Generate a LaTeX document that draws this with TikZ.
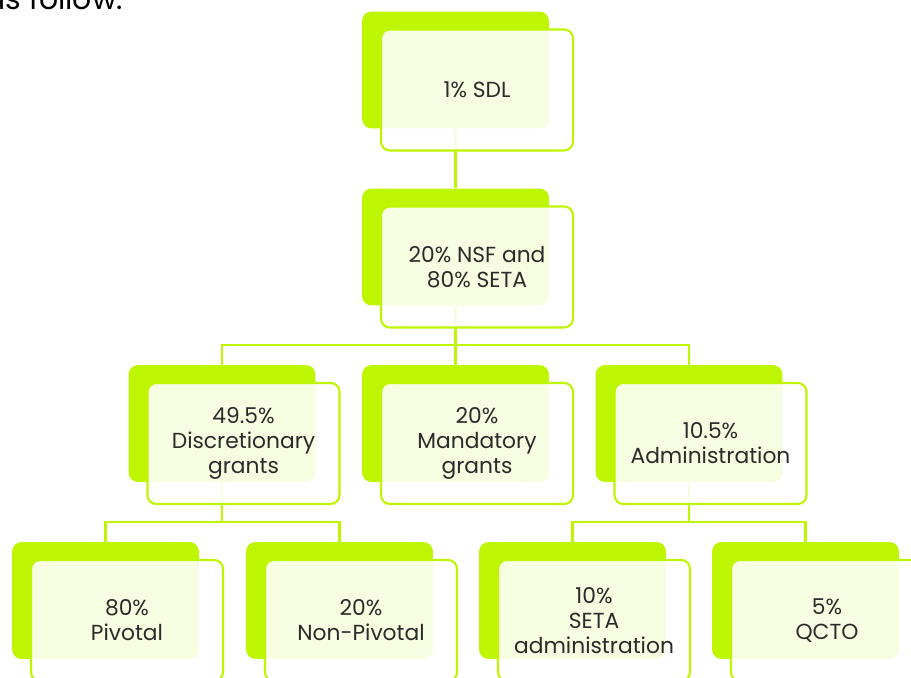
\documentclass[tikz,border=0pt]{standalone}
\usepackage{fontspec}
\setmainfont{Poppins}
\usetikzlibrary{positioning,backgrounds}
\definecolor{lime}{HTML}{BEF500}
\definecolor{ink}{HTML}{2B2B2B}
\tikzset{
  back/.style={rectangle, rounded corners=5.5pt, fill=lime, inner sep=0pt,
    minimum width=3.74cm, minimum height=2.34cm},
  front/.style={rectangle, rounded corners=5pt, draw=lime, line width=1.2pt,
    fill=white, fill opacity=0.88, text opacity=1, text=ink, align=center,
    inner sep=1pt, minimum width=3.84cm, minimum height=2.42cm,
    font=\fontsize{12.4}{14.2}\selectfont},
  link/.style={draw=lime, line width=1.5pt}
}
% a card: green block behind, framed box with the text in front
\newcommand{\card}[4]{%
  \node[back] (#1) at (#2,#3) {};
  \node[front] (#1-f) at ([xshift=0.43cm,yshift=-0.40cm]#1.center) {#4};
}

\begin{document}
\begin{tikzpicture}[x=0.02cm, y=-0.02cm]
\useasboundingbox (0,0) rectangle (911,678);

\node[anchor=base east, font=\fontsize{17}{20}\selectfont] (intro) at (129,10) {as follow.};

%levy and its split
\card{sdl}{455.5}{70}{1\% SDL}
\card{nsf}{455.5}{247}{20\% NSF and\\80\% SETA}

%seta budget
\card{disc}{222}{423.5}{49.5\%\\Discretionary\\grants}
\card{mand}{455.5}{423.5}{20\%\\Mandatory\\grants}
\card{admin}{689}{423.5}{10.5\%\\Administration}

%second level
\card{piv}{105.5}{600.5}{80\%\\Pivotal}
\card{nonpiv}{339.5}{600.5}{20\%\\Non-Pivotal}
\card{setaadm}{572.5}{600.5}{10\%\\SETA\\administration}
\card{qcto}{805.5}{600.5}{5\%\\QCTO}

\coordinate (bus1) at (455.5,345);
\coordinate (bus2) at (222,522);
\coordinate (bus3) at (689,522);

%connectors go under the cards
\begin{scope}[on background layer]
  \draw[link] (sdl.south) -- (nsf.north);
  \draw[link] (nsf.south) -- (bus1) -- (mand.north);
  \draw[link] (disc.north) |- (bus1) -| (admin.north);
  \draw[link] (disc.south) -- (bus2);
  \draw[link] (piv.north) |- (bus2) -| (nonpiv.north);
  \draw[link] (admin.south) -- (bus3);
  \draw[link] (setaadm.north) |- (bus3) -| (qcto.north);
\end{scope}
\end{tikzpicture}
\end{document}
